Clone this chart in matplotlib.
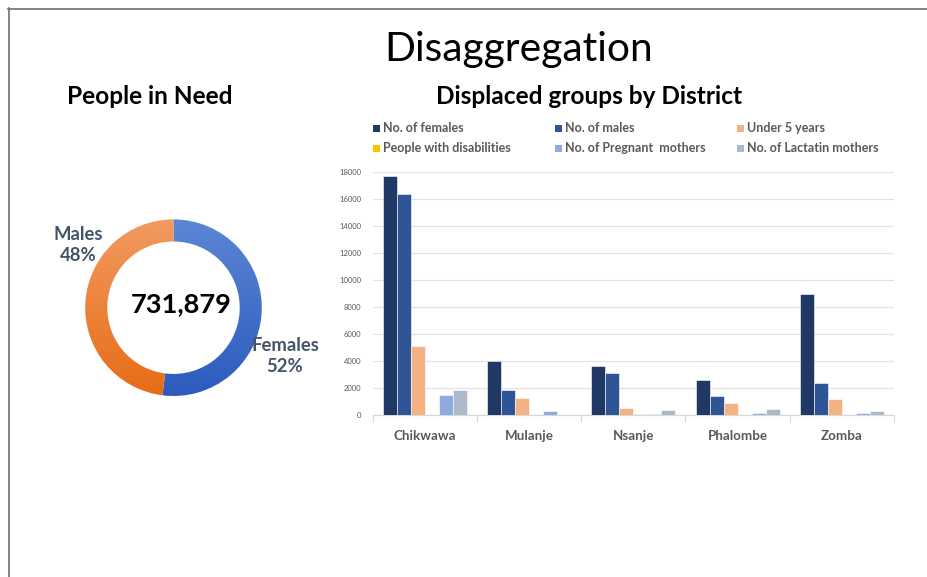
import numpy as np
import matplotlib
matplotlib.use("Agg")
import matplotlib.pyplot as plt
from matplotlib.patches import Rectangle
from matplotlib.lines import Line2D
from matplotlib.colors import LinearSegmentedColormap

plt.rcParams['font.family'] = ['Lato', 'DejaVu Sans']

# ---------------- data ----------------
districts = ["Chikwawa", "Mulanje", "Nsanje", "Phalombe", "Zomba"]
series_names = ["No. of females", "No. of males", "Under 5 years",
                "People with disabilities", "No. of Pregnant  mothers",
                "No. of Lactatin mothers"]
females = [17650, 4000, 3670, 2610, 8950]
males = [16330, 1850, 3100, 1430, 2410]
under5 = [5150, 1270, 570, 890, 1210]
disabilities = [0, 0, 60, 0, 0]
pregnant = [1530, 340, 70, 200, 170]
lactating = [1900, 0, 370, 470, 320]
series_colors = ["#203864", "#2F5597", "#F4B183", "#FFC000", "#8FAADC", "#ADB9CA"]
y_ticks = [0, 2000, 4000, 6000, 8000, 10000, 12000, 14000, 16000, 18000]

pin_labels = ["Females", "Males"]
pin_pct = [52, 48]
pin_total = "731,879"

W, H = 927, 577
fig = plt.figure(figsize=(W / 100, H / 100), dpi=100)
fig.patch.set_facecolor("white")

def fx(x):
    return x / W

def fy(y):
    return 1 - y / H

# frame lines
fig.add_artist(Line2D([fx(8), 1], [fy(8.5), fy(8.5)], color="#707070", lw=1.2))
fig.add_artist(Line2D([fx(8.5), fx(8.5)], [fy(8), 0], color="#707070", lw=1.2))

# titles
fig.text(fx(519), fy(50), "Disaggregation", ha="center", va="center",
         fontsize=29.3, color="black")
fig.text(fx(150), fy(97), "People in Need", ha="center", va="center",
         fontsize=17.6, fontweight="bold", color="black")
fig.text(fx(589), fy(97), "Displaced groups by District", ha="center", va="center",
         fontsize=17.6, fontweight="bold", color="black")

# ---------------- bar chart ----------------
axL, axR, axB, axT = 372.7, 894.0, 415.3, 171.7
ax = fig.add_axes([fx(axL), fy(axB), fx(axR - axL), (axB - axT) / H])
all_series = [females, males, under5, disabilities, pregnant, lactating]
n = len(all_series)
bw = 0.134
x = np.arange(len(districts))
for i, (vals, col) in enumerate(zip(all_series, series_colors)):
    ax.bar(x + (i - (n - 1) / 2) * bw, vals, width=bw, color=col,
           edgecolor="white", linewidth=0.4, zorder=3)
ax.set_xlim(-0.5, len(districts) - 0.5)
ax.set_ylim(0, 18000)
ax.set_yticks(y_ticks)
ax.set_yticklabels([str(t) for t in y_ticks], fontsize=5.5, color="#595959")
ax.yaxis.grid(True, color="#E3E3E3", lw=0.9, zorder=0)
ax.tick_params(axis="y", length=0, pad=8)
for s in ["top", "right", "left"]:
    ax.spines[s].set_visible(False)
ax.spines["bottom"].set_color("#D9D9D9")
ax.spines["bottom"].set_linewidth(0.9)
ax.set_xticks(np.arange(len(districts) + 1) - 0.5, minor=False)
ax.set_xticklabels([])
ax.tick_params(axis="x", length=5, color="#D9D9D9", width=0.9)
for xi, name in zip(x, districts):
    ax.text(xi, -0.085, name, transform=ax.get_xaxis_transform(), ha="center",
            va="center", fontsize=9.6, fontweight="bold", color="#595959")

# legend (manual grid)
col_x = [373, 555, 737]
row_y = [128, 148]
for i, (name, col) in enumerate(zip(series_names, series_colors)):
    cx = col_x[i % 3]
    cy = row_y[i // 3]
    fig.add_artist(Rectangle((fx(cx), fy(cy + 3.5)), fx(7), 7 / H,
                             facecolor=col, edgecolor="none"))
    fig.text(fx(cx + 10), fy(cy), name, ha="left", va="center",
             fontsize=9, fontweight="bold", color="#595959")

# ---------------- donut ----------------
cxp, cyp, R = 173.5, 307.7, 88.3
axp = fig.add_axes([fx(cxp - R), fy(cyp + R), fx(2 * R), 2 * R / H])
wedges, _ = axp.pie(pin_pct, startangle=90, counterclock=False,
                    radius=1.0, wedgeprops=dict(width=0.25, edgecolor="none"))
grads = [("#5C86D5", "#2C5BBD"), ("#F29A60", "#E66C16")]
grad = np.linspace(0, 1, 256).reshape(-1, 1)
for w, (top, bot) in zip(wedges, grads):
    cmap = LinearSegmentedColormap.from_list("g", [top, bot])
    w.set_facecolor("none")
    im = axp.imshow(grad, cmap=cmap, extent=(-1, 1, -1, 1), aspect="auto",
                    origin="upper", zorder=1)
    im.set_clip_path(w)
axp.set_xlim(-1, 1)
axp.set_ylim(-1, 1)
axp.set_aspect("equal")
axp.axis("off")

fig.text(fx(181), fy(304), pin_total, ha="center", va="center", fontsize=19.6,
         fontweight="bold", color="black")
fig.text(fx(78), fy(245), f"{pin_labels[1]}\n{pin_pct[1]}%", ha="center",
         va="center", fontsize=13.3, fontweight="bold", color="#44546A",
         linespacing=1.25)
fig.text(fx(285), fy(356), f"{pin_labels[0]}\n{pin_pct[0]}%", ha="center",
         va="center", fontsize=13.3, fontweight="bold", color="#44546A",
         linespacing=1.25)

fig.savefig("out.png", dpi=100, facecolor="white")
